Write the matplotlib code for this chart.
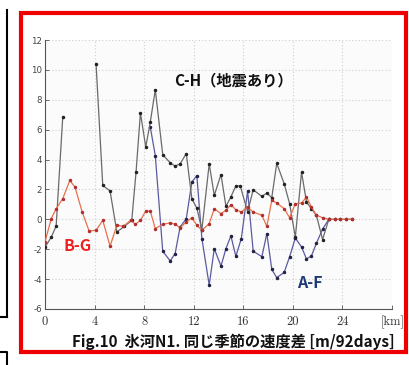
import numpy as np
import matplotlib
matplotlib.use("Agg")
import matplotlib.pyplot as plt
from matplotlib.patches import Rectangle
from matplotlib.lines import Line2D

plt.rcParams['font.family'] = ['Noto Sans CJK JP', 'DejaVu Sans']

# ---- data ----
ch_x = [0, 0.5, 0.9, 1.43, np.nan, 4.12, 4.66, 5.25, 5.8, 6.4, 7.0, 7.35, 7.7, 8.13, 8.5, 8.9,
        9.5, 10.1, 10.5, 10.9, 11.4, 11.85, 12.25, 12.66, 13.25, 13.66, 14.2, 14.6, 15.0,
        15.4, 15.76, 16.35, 16.8, 17.5, 17.9, 18.3, 18.7, 19.3, 19.74, 20.2, 20.7, 21.1,
        21.5, 21.9, 22.4, 22.9, 23.4, 23.8, 24.3, 24.8]
ch_y = [-1.87, -1.2, -0.45, 6.82, np.nan, 10.4, 2.27, 1.9, -0.85, -0.47, -0.07, 3.2, 7.13, 4.84,
        6.53, 8.67, 4.33, 3.78, 3.56, 3.71, 4.4, 1.38, 0.75, -0.69, 3.71, 1.6, 3.0, 0.87, 1.5,
        2.24, 2.22, 0.5, 1.98, 1.53, 1.76, 1.45, 3.75, 2.38, 1.04, -1.2, 3.16, 1.16,
        0.71, 0.27, -1.35, 0.0, 0.0, 0.0, 0.0, 0.0]

af_x = [8.5, 8.9, 9.5, 10.1, 10.5, 10.9, 11.4, 11.85, 12.25, 12.66, 13.25, 13.66, 14.2, 14.6,
        15.0, 15.4, 15.84, 16.35, 16.8, 17.5, 17.9, 18.3, 18.7, 19.3, 19.74, 20.2, 20.7,
        21.1, 21.5, 21.9, 22.4, 22.9]
af_y = [6.15, 4.27, -2.13, -2.78, -2.29, -0.51, 0.04, 2.49, 2.93, -1.29, -4.4, -1.96, -3.13,
        -1.96, -1.11, -2.47, -1.29, 1.9, -2.13, -2.5, -0.96, -3.35, -3.9, -3.55, -2.5, -1.25,
        -1.85, -2.65, -2.45, -1.6, -0.65, 0.0]

bg_x = [0, 0.5, 0.9, 1.43, 2.0, 2.42, 3.0, 3.56, 4.12, 4.66, 5.25, 5.8, 6.33, 6.9, 7.3, 7.7,
        8.13, 8.5, 8.9, 9.5, 10.1, 10.5, 10.9, 11.4, 11.85, 12.25, 12.66, 13.25, 13.66, 14.2,
        14.6, 15.0, 15.4, 15.84, 16.35, 16.8, 17.5, 17.9, 18.3, 18.7, 19.3, 19.74, 20.2,
        20.7, 21.1, 21.5, 21.9, 22.4, 22.9, 23.4, 23.8, 24.3, 24.8]
bg_y = [-1.51, 0.04, 0.71, 1.38, 2.6, 2.16, 0.49, -0.78, -0.73, -0.07, -1.8, -0.4, -0.47,
        -0.07, -0.33, -0.07, 0.56, 0.53, -0.62, -0.33, -0.24, -0.33, -0.56, -0.18, 0.11,
        -0.4, -0.73, -0.29, 0.71, 0.38, 0.6, 0.98, 0.64, 0.49, 0.82, 0.49, 0.27, -0.47,
        1.27, 1.09, 0.71, 0.11, 1.04, 1.09, 1.49, 0.82, 0.27, 0.11, 0.0, 0.0, 0.0, 0.0, 0.0]

x_ticks = [0, 4, 8, 12, 16, 20, 24, 28]
x_labels = ['0', '4', '8', '12', '16', '20', '24', '[km]']
y_ticks = [-6, -4, -2, 0, 2, 4, 6, 8, 10, 12]

W, H = 409, 365
fig = plt.figure(figsize=(W / 100, H / 100), dpi=100)
fig.patch.set_facecolor('white')

def fx(px):
    return px / W

def fy(py):
    return 1 - py / H

ax = fig.add_axes([fx(45), fy(309), fx(392) - fx(45), fy(40) - fy(309)])
ax.set_facecolor('#fbfbfb')

ax.plot(af_x, af_y, color='#5a5aa0', lw=0.9, marker='o', ms=1.5,
        mfc='#222244', mec='#222244', zorder=3)
ax.plot(ch_x, ch_y, color='#6a6a6a', lw=0.9, marker='o', ms=1.5,
        mfc='#222222', mec='#222222', zorder=4)
ax.plot(bg_x, bg_y, color='#e8704a', lw=0.9, marker='o', ms=1.5,
        mfc='#b03030', mec='#b03030', zorder=5)

ax.set_xlim(0, 28)
ax.set_ylim(-6, 12)
ax.set_xticks(x_ticks)
ax.set_xticklabels(x_labels, fontfamily='cmr10', fontsize=9, color='#333333')
ax.set_yticks(y_ticks)
ax.set_yticklabels([str(v) for v in y_ticks],
                   fontfamily='DejaVu Sans', fontsize=6.2, color='#444444')
ax.tick_params(axis='both', direction='in', length=3, width=0.6, color='#555555')
ax.tick_params(axis='x', pad=5)
ax.tick_params(axis='y', pad=2)
for s in ['top', 'right']:
    ax.spines[s].set_visible(False)
for s in ['left', 'bottom']:
    ax.spines[s].set_color('#555555')
    ax.spines[s].set_linewidth(0.8)
ax.grid(True, linestyle=(0, (1, 2)), color='#cfcfcf', lw=0.8)
ax.set_axisbelow(True)

fig.text(fx(233), fy(80), 'C-H（地震あり）', fontsize=11, fontweight='bold',
         color='#111111', ha='center', va='center')
fig.text(fx(78), fy(246), 'B-G', fontsize=11.5, fontweight='bold',
         color='#ee2020', ha='center', va='center')
fig.text(fx(310), fy(283), 'A-F', fontsize=11.5, fontweight='bold',
         color='#1f3a78', ha='center', va='center')
fig.text(fx(72), fy(342), 'Fig.10  氷河N1. 同じ季節の速度差 [m/92days]', fontsize=11.0,
         fontweight='bold', color='#111111', ha='left', va='center')

# red frame
fig.patches.append(Rectangle((fx(21), fy(352)), fx(406) - fx(21), fy(13) - fy(352),
                             transform=fig.transFigure, fill=False,
                             edgecolor='#ee0000', lw=3.0, zorder=10))
# partial neighbouring panel on the left
fig.lines.append(Line2D([fx(7), fx(7)], [fy(10), fy(317)], transform=fig.transFigure,
                        color='black', lw=1.5))
fig.lines.append(Line2D([fx(0), fx(7)], [fy(317), fy(317)], transform=fig.transFigure,
                        color='black', lw=1.5))
fig.lines.append(Line2D([fx(0), fx(7), fx(7)], [fy(352), fy(352), fy(365)],
                        transform=fig.transFigure, color='black', lw=1.5))

fig.savefig('out.png', dpi=100)
